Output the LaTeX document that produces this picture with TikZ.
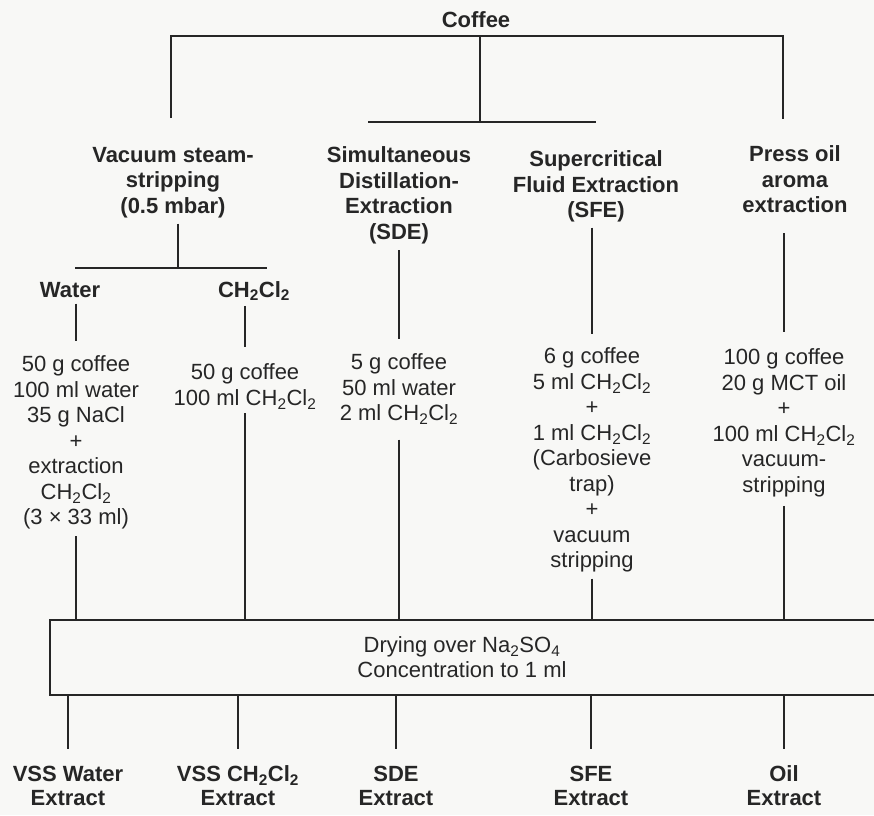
\documentclass[tikz,border=0pt]{standalone}
\usepackage{fontspec}
\setmainfont{Liberation Sans}
\usepackage{xcolor}
\usetikzlibrary{positioning,calc}
\definecolor{ink}{RGB}{38,38,38}
\definecolor{paper}{RGB}{248,248,246}
\newcommand{\dcm}{CH\textsubscript{2}Cl\textsubscript{2}}

\begin{document}
\begin{tikzpicture}[x=1pt,y=-1pt,
  every node/.style={inner sep=0pt, outer sep=0pt, text=ink, align=center},
  head/.style={font=\bfseries\fontsize{22}{25.5}\selectfont, anchor=north},
  recipe/.style={font=\fontsize{22}{25.5}\selectfont, anchor=north},
  extract/.style={font=\bfseries\fontsize{22}{24}\selectfont, anchor=north},
  wire/.style={draw=ink, line width=1.6pt}]
  \useasboundingbox (0,0) rectangle (874,815);
  \fill[paper] (0,0) rectangle (874,815);

  \node[head, anchor=center] (coffee) at (476,20) {Coffee};

  \node[head] (vss) at (173,147) {Vacuum steam-\\stripping\\(0.5 mbar)};
  \node[head] (sde) at (399,147) {Simultaneous\\Distillation-\\Extraction\\(SDE)};
  \node[head] (sfe) at (596,151) {Supercritical\\Fluid Extraction\\(SFE)};
  \node[head] (oil) at (795,146) {Press oil\\aroma\\extraction};

  \node[head, anchor=center] (water) at (70,290) {Water};
  \node[head, anchor=center] (dcm) at (254,291) {\dcm};

  \node[recipe] (watermix) at (76,356) {50 g coffee\\100 ml water\\35 g NaCl\\+\\extraction\\\dcm\\(3 × 33 ml)};
  \node[recipe] (dcmmix) at (245,364) {50 g coffee\\100 ml \dcm};
  \node[recipe] (sdemix) at (399,354) {5 g coffee\\50 ml water\\2 ml \dcm};
  \node[recipe] (sfemix) at (592,348) {6 g coffee\\5 ml \dcm\\+\\1 ml \dcm\\(Carbosieve\\trap)\\+\\vacuum\\stripping};
  \node[recipe] (oilmix) at (784,349) {100 g coffee\\20 g MCT oil\\+\\100 ml \dcm\\vacuum-\\stripping};

  \node[minimum width=824pt, minimum height=75pt, font=\fontsize{22}{25}\selectfont] (dry) at (462,657.5)
    {Drying over Na\textsubscript{2}SO\textsubscript{4}\\Concentration to 1 ml};

  \node[extract] (waterout) at (68,766) {VSS Water\\Extract};
  \node[extract] (dcmout) at (238,766) {VSS \dcm\\Extract};
  \node[extract] (sdeout) at (396,766) {SDE\\Extract};
  \node[extract] (sfeout) at (591,766) {SFE\\Extract};
  \node[extract] (oilout) at (784,766) {Oil\\Extract};

  \coordinate (topwest) at (171,36);
  \coordinate (topeast) at (783,36);
  \coordinate (topmid) at (480,36);
  \coordinate (fork) at (480,122);
  \coordinate (vssfork) at (178,268);

  \draw[wire] (topwest) ++(0,82) -- (topwest) -- (topeast) -- ++(0,83);
  \draw[wire] (topmid) -- (fork);
  \draw[wire] (fork) ++(-112,0) -- ++(228,0);

  \draw[wire, shorten <=6pt] (vss.south -| vssfork) -- (vssfork);
  \draw[wire] (vssfork) ++(-103,0) -- ++(192,0);

  \draw[wire, shorten <=6pt, shorten >=15pt] (watermix.north |- water.south) -- (watermix.north);
  \draw[wire, shorten <=5pt, shorten >=17pt] (dcmmix.north |- dcm.south) -- (dcmmix.north);
  \draw[wire, shorten <=6pt, shorten >=15pt] (sde.south) -- (sdemix.north);
  \draw[wire, shorten <=5pt, shorten >=14pt] (sfemix.north |- sfe.south) -- (sfemix.north);
  \draw[wire, shorten <=20pt, shorten >=17pt] (oilmix.north |- oil.south) -- (oilmix.north);

  \draw[wire, shorten <=7pt] (watermix.south) -- (watermix.south |- dry.north);
  \draw[wire, shorten <=4pt] (dcmmix.south) -- (dcmmix.south |- dry.north);
  \draw[wire, shorten <=15pt] (sdemix.south) -- (sdemix.south |- dry.north);
  \draw[wire, shorten <=6pt] (sfemix.south) -- (sfemix.south |- dry.north);
  \draw[wire, shorten <=9pt] (oilmix.south) -- (oilmix.south |- dry.north);

  \draw[wire] (dry.north east) -- (dry.north west) -- (dry.south west) -- (dry.south east);

  \draw[wire, shorten >=17pt] (dry.south -| waterout.north) -- (waterout.north);
  \draw[wire, shorten >=17pt] (dry.south -| dcmout.north) -- (dcmout.north);
  \draw[wire, shorten >=17pt] (dry.south -| sdeout.north) -- (sdeout.north);
  \draw[wire, shorten >=17pt] (dry.south -| sfeout.north) -- (sfeout.north);
  \draw[wire, shorten >=17pt] (dry.south -| oilout.north) -- (oilout.north);
\end{tikzpicture}
\end{document}
